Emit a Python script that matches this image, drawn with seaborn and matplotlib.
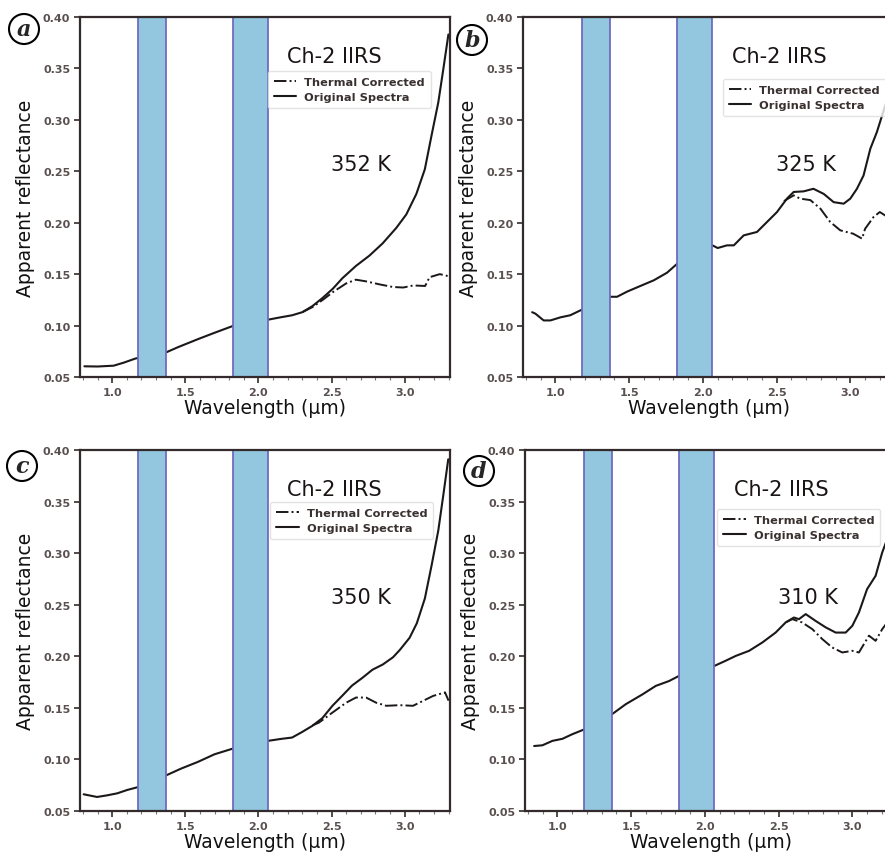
import numpy as np
import pandas as pd
import matplotlib
matplotlib.use("Agg")
import matplotlib.pyplot as plt
import seaborn as sns
from matplotlib.ticker import MultipleLocator

# ---------------- data ----------------
bands = [(1.18, 1.37), (1.825, 2.065)]

a_wl = [0.81, 0.90, 1.01, 1.08, 1.16, 1.37, 1.45, 1.59, 1.70, 1.825, 2.065, 2.15, 2.23, 2.30,
        2.37, 2.44, 2.51, 2.574, 2.667, 2.759, 2.85, 2.943, 3.011, 3.08, 3.138, 3.184, 3.23,
        3.264, 3.299]
a_orig = [0.0604, 0.0602, 0.061, 0.064, 0.068, 0.074, 0.079, 0.087, 0.093, 0.0996, 0.1057,
          0.108, 0.110, 0.113, 0.119, 0.127, 0.136, 0.146, 0.158, 0.168, 0.180, 0.195, 0.208,
          0.228, 0.252, 0.285, 0.317, 0.349, 0.383]
a_twl = [2.30, 2.37, 2.44, 2.51, 2.60, 2.667, 2.735, 2.83, 2.92, 2.99, 3.06, 3.14, 3.17,
         3.24, 3.30]
a_therm = [0.113, 0.118, 0.125, 0.1326, 0.141, 0.1446, 0.143, 0.140, 0.1375, 0.137, 0.139,
           0.1385, 0.147, 0.150, 0.148]

b_wl = [0.842, 0.864, 0.92, 0.966, 1.034, 1.10, 1.18, 1.37, 1.418, 1.486, 1.576, 1.667,
        1.757, 1.825, 2.065, 2.10, 2.164, 2.21, 2.277, 2.367, 2.435, 2.503, 2.57, 2.616,
        2.684, 2.75, 2.82, 2.887, 2.955, 3.0, 3.045, 3.09, 3.136, 3.18, 3.237, 3.30]
b_orig = [0.113, 0.1116, 0.105, 0.105, 0.108, 0.110, 0.1155, 0.128, 0.128, 0.133, 0.1385,
          0.144, 0.1514, 0.160, 0.178, 0.1754, 0.178, 0.178, 0.1877, 0.191, 0.2007, 0.2104,
          0.2234, 0.2299, 0.2305, 0.233, 0.228, 0.220, 0.2185, 0.2234, 0.233, 0.246, 0.272,
          0.288, 0.314, 0.34]
b_twl = [2.55, 2.616, 2.66, 2.729, 2.797, 2.864, 2.932, 3.02, 3.08, 3.10, 3.158, 3.20,
         3.237, 3.30]
b_therm = [0.221, 0.2266, 0.2234, 0.222, 0.2137, 0.2007, 0.1926, 0.1893, 0.1845, 0.194,
           0.2056, 0.2104, 0.207, 0.21]

c_wl = [0.805, 0.897, 0.966, 1.034, 1.103, 1.18, 1.37, 1.471, 1.586, 1.70, 1.825, 2.065,
        2.16, 2.23, 2.30, 2.368, 2.437, 2.506, 2.575, 2.64, 2.71, 2.78, 2.85, 2.92, 2.966,
        3.034, 3.083, 3.138, 3.184, 3.23, 3.264, 3.298]
c_orig = [0.0662, 0.0636, 0.0652, 0.0671, 0.0704, 0.0733, 0.0846, 0.0911, 0.0976, 0.105,
          0.1105, 0.118, 0.120, 0.1212, 0.1267, 0.1325, 0.140, 0.152, 0.162, 0.1716, 0.179,
          0.187, 0.192, 0.199, 0.206, 0.218, 0.232, 0.256, 0.288, 0.322, 0.356, 0.391]
c_twl = [2.37, 2.414, 2.506, 2.60, 2.667, 2.736, 2.805, 2.874, 2.966, 3.057, 3.126, 3.195,
         3.276, 3.30]
c_therm = [0.133, 0.1357, 0.1454, 0.155, 0.160, 0.160, 0.155, 0.152, 0.1526, 0.152, 0.1568,
           0.1616, 0.165, 0.157]

d_wl = [0.842, 0.898, 0.966, 1.034, 1.10, 1.18, 1.37, 1.463, 1.576, 1.667, 1.757, 1.825,
        2.065, 2.14, 2.21, 2.30, 2.39, 2.48, 2.548, 2.604, 2.638, 2.684, 2.75, 2.82, 2.887,
        2.955, 3.0, 3.045, 3.10, 3.158, 3.203, 3.237, 3.30]
d_orig = [0.113, 0.1137, 0.118, 0.120, 0.1244, 0.129, 0.1438, 0.1535, 0.163, 0.1713, 0.176,
          0.181, 0.1907, 0.1956, 0.2004, 0.2053, 0.2134, 0.223, 0.2328, 0.2376, 0.236, 0.2409,
          0.2344, 0.228, 0.223, 0.223, 0.2295, 0.2425, 0.265, 0.278, 0.3007, 0.3137, 0.34]
d_twl = [2.55, 2.593, 2.66, 2.729, 2.797, 2.864, 2.932, 3.0, 3.045, 3.113, 3.158, 3.203,
         3.237, 3.30]
d_therm = [0.233, 0.236, 0.2328, 0.2263, 0.2166, 0.2085, 0.2037, 0.2053, 0.2037, 0.220,
           0.215, 0.2263, 0.2328, 0.24]

panel_letters = ["a", "b", "c", "d"]
temperatures = ["352 K", "325 K", "350 K", "310 K"]
instrument = "Ch-2 IIRS"
legend_labels = ["Thermal Corrected", "Original Spectra"]
y_ticks = [0.05, 0.10, 0.15, 0.20, 0.25, 0.30, 0.35, 0.40]
x_ticks = [1.0, 1.5, 2.0, 2.5, 3.0]

# ---------------- style ----------------
sns.set_theme(style="ticks")
plt.rcParams['font.family'] = ['DejaVu Sans']

W, H = 885, 854
fig = plt.figure(figsize=(W / 100, H / 100), dpi=100)


def px_axes(l, t, r, b):
    return [l / W, 1 - b / H, (r - l) / W, (b - t) / H]


boxes = [(80, 18, 450, 378), (523, 18, 896, 378), (80, 451, 450, 812), (525, 451, 898, 812)]
legend_anchor = [(0.508, 0.85), (0.536, 0.828), (0.514, 0.856), (0.515, 0.837)]
letter_pos = [(24, 30), (472, 41), (22, 467), (479, 472)]
series = [(a_wl, a_orig, a_twl, a_therm), (b_wl, b_orig, b_twl, b_therm),
          (c_wl, c_orig, c_twl, c_therm), (d_wl, d_orig, d_twl, d_therm)]

line_col = '#1c1818'
tick_col = '#5a5050'
spine_col = '#332b2b'

for i in range(4):
    ax = fig.add_axes(px_axes(*boxes[i]))
    wl, orig, twl, therm = series[i]
    for lo, hi in bands:
        ax.axvspan(lo, hi, facecolor='#93c6df', edgecolor='#6f6cc0', lw=1.3, zorder=3)
    sns.lineplot(x=twl, y=therm, ax=ax, color=line_col, lw=1.4, linestyle='-.',
                 label=legend_labels[0], zorder=2, sort=False)
    sns.lineplot(x=wl, y=orig, ax=ax, color=line_col, lw=1.5, linestyle='-',
                 label=legend_labels[1], zorder=2.5, sort=False)
    ax.set_xlim(0.78, 3.31)
    ax.set_ylim(0.05, 0.40)
    ax.set_xticks(x_ticks)
    ax.set_yticks(y_ticks)
    ax.set_xticklabels([f"{v:.1f}" for v in x_ticks])
    ax.set_yticklabels([f"{v:.2f}" for v in y_ticks])
    ax.xaxis.set_minor_locator(MultipleLocator(0.1))
    ax.tick_params(axis='both', which='major', direction='out', length=4, width=1.2,
                   colors=spine_col, labelcolor=tick_col, labelsize=8, pad=3)
    ax.tick_params(axis='x', which='minor', direction='out', length=2, width=0.8,
                   colors='#777')
    for lab in ax.get_xticklabels() + ax.get_yticklabels():
        lab.set_fontweight('bold')
    for sp in ax.spines.values():
        sp.set_visible(True)
        sp.set_color(spine_col)
        sp.set_linewidth(1.6)
        sp.set_zorder(4)
    ax.set_xlabel("Wavelength (μm)", fontsize=13.5, color='#111', labelpad=1)
    ax.set_ylabel("Apparent reflectance", fontsize=13.5, color='#111', labelpad=6)
    ax.text(2.52, 0.362, instrument, fontsize=15, ha='center', va='center', color='#1a1414')
    ax.text(2.70, 0.257, temperatures[i], fontsize=15, ha='center', va='center',
            color='#1a1414')
    leg = ax.legend(loc='upper left', bbox_to_anchor=legend_anchor[i],
                    prop={'size': 8.2, 'weight': 'bold'}, frameon=True, fancybox=True,
                    handlelength=2.0, borderpad=0.5, labelspacing=0.5,
                    handletextpad=0.7, borderaxespad=0)
    leg.get_frame().set_edgecolor('#dddddd')
    for t in leg.get_texts():
        t.set_color('#3a3030')
    lx, ly = letter_pos[i]
    fig.text(lx / W, 1 - ly / H, panel_letters[i], fontfamily='DejaVu Serif',
             style='italic', fontweight='bold', fontsize=16, ha='center', va='center',
             bbox=dict(boxstyle='circle,pad=0.18', fc='white', ec='black', lw=1.5))

fig.savefig("out.png", dpi=100)
